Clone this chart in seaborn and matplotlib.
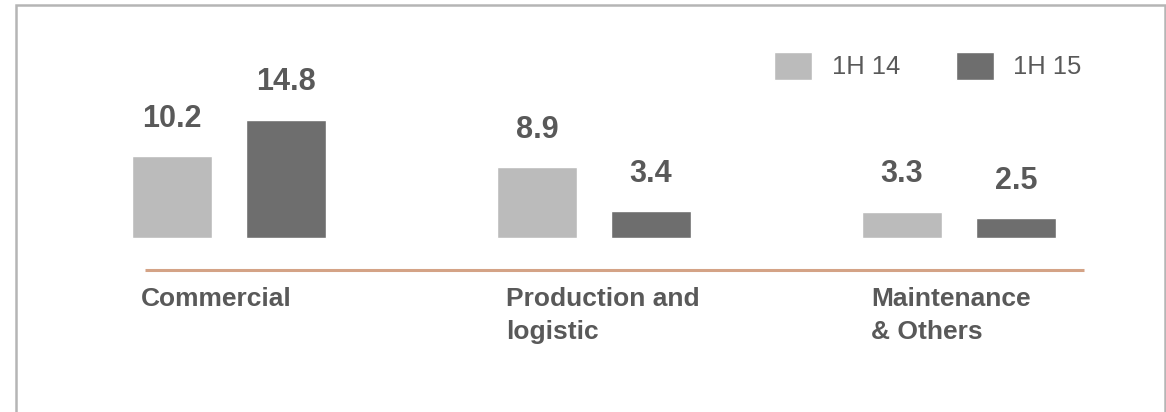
import matplotlib
matplotlib.use("Agg")
import matplotlib.pyplot as plt
from matplotlib.patches import Rectangle
import seaborn as sns
import pandas as pd

# Data
segments = ["Commercial", "Production and\nlogistic", "Maintenance\n& Others"]
periods = ["1H 14", "1H 15"]
values_1h14 = [10.2, 8.9, 3.3]
values_1h15 = [14.8, 3.4, 2.5]

df = pd.DataFrame({
    "segment": segments * 2,
    "period": [periods[0]] * 3 + [periods[1]] * 3,
    "value": values_1h14 + values_1h15,
})

sns.set_style("white")
plt.rcParams["font.family"] = ["Liberation Sans", "DejaVu Sans"]

LIGHT = "#bbbbbb"
DARK = "#6e6e6e"
TEXT = "#595959"
RULE = "#d4a386"
FRAME = "#b5b5b5"

W, H = 1166, 412
fig = plt.figure(figsize=(W / 100, H / 100), dpi=100)
ax = fig.add_axes([0, 0, 1, 1])

sns.barplot(data=df, x="segment", y="value", hue="period",
            palette=[LIGHT, DARK], width=0.625, gap=0.3,
            saturation=1, ax=ax)

ax.set_xlim(-0.627, 2.567)
ax.set_ylim(-21.75, 29.75)
ax.axis("off")

# value labels above each bar
for cont in ax.containers:
    ax.bar_label(cont, fmt="%.1f", padding=16, fontsize=22,
                 fontweight="bold", color=TEXT)

# tan rule under the bars
ax.hlines(-4, -0.23, 2.342, color=RULE, lw=2.2)

# category names, left aligned under each group
for i, name in enumerate(segments):
    ax.text(i - 0.24, -6.1, name, ha="left", va="top", fontsize=19,
            fontweight="bold", color=TEXT, linespacing=1.5)

# legend in the top right
handles, labels = ax.get_legend_handles_labels()
ax.legend(handles, labels, loc="upper left",
          bbox_to_anchor=(774 / W, 1 - 52 / H), bbox_transform=fig.transFigure,
          frameon=False, ncol=2, fontsize=18.4, handlelength=1.5,
          handleheight=1.3, handletextpad=0.75, columnspacing=2.2,
          borderpad=0, borderaxespad=0, labelcolor=TEXT)

# thin grey frame around the panel (open at the bottom)
fig.add_artist(Rectangle((15.5 / W, -0.05), (1164.5 - 15.5) / W,
                         1 - 5 / H + 0.05, fill=False, edgecolor=FRAME,
                         lw=1.8, transform=fig.transFigure))

fig.savefig("out.png", dpi=100)
